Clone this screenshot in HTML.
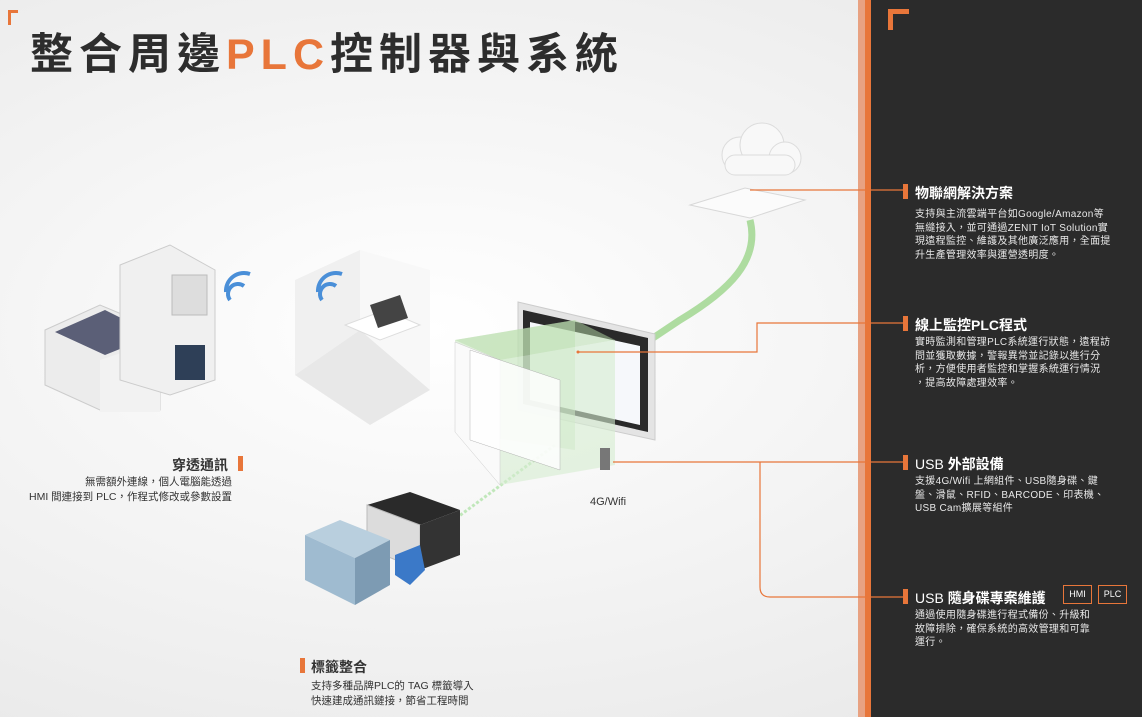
<!DOCTYPE html>
<html><head><meta charset="utf-8"><style>
*{margin:0;padding:0;box-sizing:border-box}
body{width:1142px;height:717px;overflow:hidden;position:relative;font-family:"Liberation Sans","Noto Sans CJK TC",sans-serif;background:radial-gradient(ellipse at 430px 330px,#ffffff 0%,#f4f4f4 45%,#e6e6e6 100%)}
.a{position:absolute;white-space:nowrap}
.t{color:#333;font-weight:bold}
.p{color:#333;font-size:10.5px;line-height:15px}
.dark{left:871px;top:0;width:271px;height:717px;background:#2b2b2b}
.rh{color:#fff;font-size:14px;font-weight:bold;left:915px}
.rp{color:#e8e8e8;font-size:10px;line-height:13.5px;left:915px;letter-spacing:.3px}
.mk{position:absolute;width:5px;height:15px;background:#e8763a}
</style></head><body>
<div class="a" style="left:8px;top:10px;width:10px;height:15px;border-left:3px solid #e8763a;border-top:3px solid #e8763a"></div>
<div class="a t" style="left:30px;top:20px;font-size:43px;letter-spacing:6px;color:#2d2d2d">整合周邊<span style="color:#e8763a">PLC</span>控制器與系統</div>

<div class="a" style="left:858px;top:0;width:7px;height:717px;background:#e8a282"></div>
<div class="a" style="left:865px;top:0;width:6px;height:717px;background:#e8763a"></div>
<div class="a dark"></div>
<div class="a" style="left:888px;top:9px;width:21px;height:21px;border-left:5px solid #e8763a;border-top:5px solid #e8763a"></div>

<svg class="a" style="left:0;top:0" width="1142" height="717">
<g fill="#f8f8f8" stroke="#dcdcdc"><circle cx="740" cy="155" r="18"/><circle cx="762" cy="145" r="22"/><circle cx="785" cy="158" r="16"/><rect x="725" y="155" width="70" height="20" rx="10"/></g>
<polygon points="690,205 745,188 805,200 750,218" fill="#fbfbfb" stroke="#d8d8d8"/>
<path d="M750,220 C760,260 730,290 680,320 L650,340" stroke="#8fd07a" stroke-width="7" fill="none" opacity=".7"/>
<path d="M555,445 L420,545" stroke="#a8e0a0" stroke-width="3" fill="none" opacity=".7" stroke-dasharray="3 2"/>
<polygon points="518,302 655,334 655,440 518,410" fill="#e4e4e4" stroke="#ccc"/>
<polygon points="523,310 648,338 648,432 523,404" fill="#2a2a2a"/>
<polygon points="530,322 640,346 640,425 530,400" fill="#f6f8fb"/>
<polygon points="455,340 575,320 575,450 455,432" fill="#c8e6c0" opacity=".55"/>
<polygon points="455,340 575,320 615,340 500,360" fill="#b6dca8" opacity=".5"/>
<polygon points="500,360 615,340 615,465 500,485" fill="#d6ecd0" opacity=".6"/>
<polygon points="455,342 500,360 500,485 455,432" fill="#fafafa" stroke="#ccc" stroke-width=".5"/>
<polygon points="470,350 560,380 560,470 470,440" fill="#fff" opacity=".85" stroke="#aaa" stroke-width=".5"/>
<rect x="600" y="448" width="10" height="22" fill="#777"/>
<polygon points="45,330 100,305 160,330 160,410 100,410 45,385" fill="#ececec" stroke="#ccc"/>
<polygon points="55,332 105,310 155,335 105,355" fill="#5b5f77"/>
<polygon points="100,360 160,340 160,412 100,412" fill="#f2f2f2"/>
<polygon points="120,265 170,245 215,270 215,380 170,395 120,380" fill="#f0f0f0" stroke="#ccc"/>
<rect x="172" y="275" width="35" height="40" fill="#ddd" stroke="#bbb"/>
<rect x="175" y="345" width="30" height="35" fill="#2e3f57"/>
<polygon points="295,280 360,250 360,330 295,375" fill="#f0f0f0"/>
<polygon points="360,250 430,270 430,390 360,330" fill="#f8f8f8"/>
<polygon points="295,375 360,330 430,390 370,425" fill="#e8e8e8"/>
<polygon points="345,325 385,310 420,325 380,340" fill="#fff" stroke="#ddd"/>
<polygon points="370,305 400,295 408,318 378,328" fill="#444"/>
<path d="M230,300 a10,10 0 0 1 14,-14 M226,292 a18,18 0 0 1 24,-18" stroke="#4a8fd8" stroke-width="4" fill="none"/>
<path d="M322,300 a10,10 0 0 1 14,-14 M318,292 a18,18 0 0 1 24,-18" stroke="#4a8fd8" stroke-width="4" fill="none"/>
<polygon points="367,505 410,492 460,510 420,525" fill="#2a2a2a"/>
<polygon points="367,505 420,525 420,570 367,548" fill="#dcdcdc" stroke="#bbb"/>
<polygon points="420,525 460,510 460,555 420,570" fill="#333"/>
<polygon points="305,535 340,520 390,540 355,558" fill="#b9cfde"/>
<polygon points="305,535 355,558 355,605 305,580" fill="#9fbbd0"/>
<polygon points="355,558 390,540 390,585 355,605" fill="#7d9bb3"/>
<polygon points="395,555 420,545 425,570 410,585 395,575" fill="#3b79c8"/>
<g stroke="#e8763a" stroke-width="1.2" fill="none">
<path d="M750,190 H905"/>
<path d="M578,352 H757 V323 H905"/>
<path d="M613,462 H905"/>
<path d="M760,462 V587 Q760,597 770,597 H905"/>
</g>
<circle cx="578" cy="352" r="1.5" fill="#e8763a"/>
</svg>

<div class="a" style="left:590px;top:496px;font-size:11px;color:#333">4G/Wifi</div>

<div class="a t" style="left:172px;top:455px;font-size:14px">穿透通訊</div>
<div class="mk" style="left:238px;top:456px"></div>
<div class="a p" style="left:20px;top:475px;width:212px;text-align:right">無需額外連線，個人電腦能透過<br>HMI 間連接到 PLC，作程式修改或參數設置</div>

<div class="mk" style="left:300px;top:658px"></div>
<div class="a t" style="left:311px;top:657px;font-size:14px">標籤整合</div>
<div class="a p" style="left:311px;top:679px">支持多種品牌PLC的 TAG 標籤導入<br>快速建成通訊鏈接，節省工程時間</div>

<div class="mk" style="left:903px;top:184px"></div>
<div class="a rh" style="top:183px">物聯網解決方案</div>
<div class="a rp" style="top:208px">支持與主流雲端平台如Google/Amazon等<br>無縫接入，並可通過ZENIT IoT Solution實<br>現遠程監控、維護及其他廣泛應用，全面提<br>升生產管理效率與運營透明度。</div>

<div class="mk" style="left:903px;top:316px"></div>
<div class="a rh" style="top:315px">線上監控PLC程式</div>
<div class="a rp" style="top:336px">實時監測和管理PLC系統運行狀態，遠程訪<br>問並獲取數據，警報異常並記錄以進行分<br>析，方便使用者監控和掌握系統運行情況<br>，提高故障處理效率。</div>

<div class="mk" style="left:903px;top:455px"></div>
<div class="a rh" style="top:454px;font-weight:normal">USB <b>外部設備</b></div>
<div class="a rp" style="top:475px">支援4G/Wifi 上網組件、USB隨身碟、鍵<br>盤、滑鼠、RFID、BARCODE、印表機、<br>USB Cam擴展等組件</div>

<div class="mk" style="left:903px;top:589px"></div>
<div class="a rh" style="top:588px;font-weight:normal">USB <b>隨身碟專案維護</b></div>
<div class="a" style="left:1063px;top:585px;width:29px;height:19px;border:1px solid #e8763a;color:#fff;font-size:9px;text-align:center;line-height:17px">HMI</div>
<div class="a" style="left:1098px;top:585px;width:29px;height:19px;border:1px solid #e8763a;color:#fff;font-size:9px;text-align:center;line-height:17px">PLC</div>
<div class="a rp" style="top:609px">通過使用隨身碟進行程式備份、升級和<br>故障排除，確保系統的高效管理和可靠<br>運行。</div>
</body></html>
